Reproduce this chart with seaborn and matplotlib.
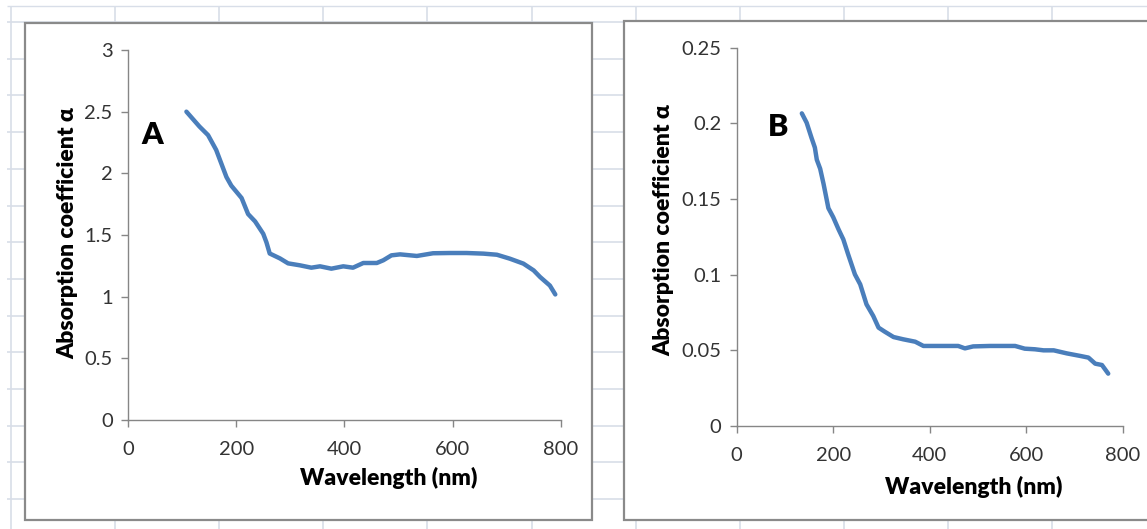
import matplotlib
matplotlib.use("Agg")
import matplotlib.pyplot as plt
from matplotlib.patches import Rectangle
from matplotlib.ticker import FuncFormatter
import seaborn as sns
import pandas as pd

# ---- data ----
wavelength_a = [108, 132, 148, 163, 182, 191, 210, 222, 235, 250, 256, 262, 281, 296,
                318, 339, 355, 376, 398, 416, 435, 460, 472, 487, 503, 534, 564, 595,
                626, 657, 682, 706, 731, 750, 762, 780, 790]
alpha_a = [2.50, 2.38, 2.31, 2.19, 1.97, 1.90, 1.80, 1.67, 1.61, 1.51, 1.44, 1.35, 1.31, 1.27,
           1.254, 1.235, 1.246, 1.227, 1.246, 1.235, 1.273, 1.273, 1.295, 1.335, 1.343, 1.33,
           1.352, 1.354, 1.354, 1.349, 1.34, 1.308, 1.268, 1.213, 1.159, 1.09, 1.018]

wavelength_b = [135, 145, 155, 162, 166, 173, 180, 190, 200, 211, 221, 231, 245, 256, 269,
                283, 294, 307, 325, 345, 370, 387, 421, 459, 473, 490, 525, 577, 597, 618,
                636, 657, 684, 712, 729, 743, 757, 770]
alpha_b = [0.2066, 0.2004, 0.1905, 0.184, 0.176, 0.170, 0.160, 0.144, 0.138, 0.130, 0.1233,
           0.1134, 0.1002, 0.0936, 0.0804, 0.0727, 0.065, 0.0623, 0.0588, 0.0573, 0.0557,
           0.0529, 0.0529, 0.0529, 0.0513, 0.0526, 0.0529, 0.0529, 0.0511, 0.0507, 0.050,
           0.050, 0.048, 0.0463, 0.0452, 0.0412, 0.0403, 0.0346]

x_ticks = [0, 200, 400, 600, 800]
y_ticks_a = [0, 0.5, 1, 1.5, 2, 2.5, 3]
y_ticks_b = [0, 0.05, 0.1, 0.15, 0.2, 0.25]
x_label = "Wavelength (nm)"
y_label = "Absorption coefficient α"
panel_labels = ["A", "B"]

# ---- style ----
sns.set_style("white")
plt.rcParams['font.family'] = ['Lato', 'DejaVu Sans']

W, H = 1147, 529
fig = plt.figure(figsize=(W / 100, H / 100), dpi=100)

# spreadsheet background
bg = fig.add_axes([0, 0, 1, 1])
bg.set_xlim(0, W)
bg.set_ylim(H, 0)
bg.axis("off")
grid_c = "#d8dee8"
vx = [11 + 104.1 * k for k in range(11)]
hy = [22 + 36.7 * k for k in range(14)]
bg.vlines(vx, 6, H, color=grid_c, lw=1.2, zorder=0)
bg.hlines(hy, 7, W, color=grid_c, lw=1.2, zorder=0)
bg.hlines([6], 7, W, color=grid_c, lw=1.0, zorder=0)
box_c = "#8a8a8a"
bg.add_patch(Rectangle((25, 23), 567, 497, facecolor="white", edgecolor=box_c, lw=1.6, zorder=2))
bg.add_patch(Rectangle((624, 21), 560, 499, facecolor="white", edgecolor=box_c, lw=1.6, zorder=2))

line_c = "#4a7ebb"
axis_c = "#868686"
tick_c = "#333333"
label_size = 16.5
label_weight = "heavy"


def fmt(v, pos):
    return "%g" % v


def style_axes(ax, yticks, ylim):
    ax.set_facecolor("none")
    ax.set_xlim(0, 800)
    ax.set_ylim(*ylim)
    ax.set_xticks(x_ticks)
    ax.set_yticks(yticks)
    ax.yaxis.set_major_formatter(FuncFormatter(fmt))
    for s in ["top", "right"]:
        ax.spines[s].set_visible(False)
    for s in ["left", "bottom"]:
        ax.spines[s].set_color(axis_c)
        ax.spines[s].set_linewidth(1.0)
    ax.tick_params(axis="both", direction="out", length=5, width=1.0, color=axis_c,
                   labelcolor=tick_c, labelsize=14.5, left=True, bottom=True)
    ax.tick_params(axis="x", pad=10)
    ax.tick_params(axis="y", pad=6)


dfa = pd.DataFrame({"wavelength": wavelength_a, "alpha": alpha_a})
dfb = pd.DataFrame({"wavelength": wavelength_b, "alpha": alpha_b})

# Panel A
axA = fig.add_axes([128 / W, (H - 420) / H, 432.7 / W, 370 / H], zorder=3)
sns.lineplot(data=dfa, x="wavelength", y="alpha", ax=axA, color=line_c, lw=3.2,
             sort=False, solid_capstyle="round", solid_joinstyle="round")
style_axes(axA, y_ticks_a, (0, 3))
axA.set_xlabel(x_label, fontsize=label_size, fontweight=label_weight, color="black")
axA.set_ylabel(y_label, fontsize=label_size, fontweight=label_weight, color="black")
axA.xaxis.set_label_coords((389 - 128) / 432.7, (420 - 478) / 370)
axA.xaxis.label.set_va("center")
axA.yaxis.set_label_coords((68 - 128) / 432.7, 0.505)
axA.yaxis.label.set_va("center")
axA.text((152 - 128) / 432.7, (420 - 135) / 370, panel_labels[0], transform=axA.transAxes,
         fontsize=22, fontweight=label_weight, ha="center", va="center", color="black")

# Panel B
axB = fig.add_axes([736.7 / W, (H - 426) / H, 386 / W, 378.3 / H], zorder=3)
sns.lineplot(data=dfb, x="wavelength", y="alpha", ax=axB, color=line_c, lw=3.2,
             sort=False, solid_capstyle="round", solid_joinstyle="round")
style_axes(axB, y_ticks_b, (0, 0.25))
axB.set_xlabel(x_label, fontsize=label_size, fontweight=label_weight, color="black")
axB.set_ylabel(y_label, fontsize=label_size, fontweight=label_weight, color="black")
axB.xaxis.set_label_coords((974 - 736.7) / 386, (426 - 487) / 378.3)
axB.xaxis.label.set_va("center")
axB.yaxis.set_label_coords((664 - 736.7) / 386, (426 - 230) / 378.3)
axB.yaxis.label.set_va("center")
axB.text((778 - 736.7) / 386, (426 - 127) / 378.3, panel_labels[1], transform=axB.transAxes,
         fontsize=22, fontweight=label_weight, ha="center", va="center", color="black")

fig.savefig("out.png", dpi=100)
